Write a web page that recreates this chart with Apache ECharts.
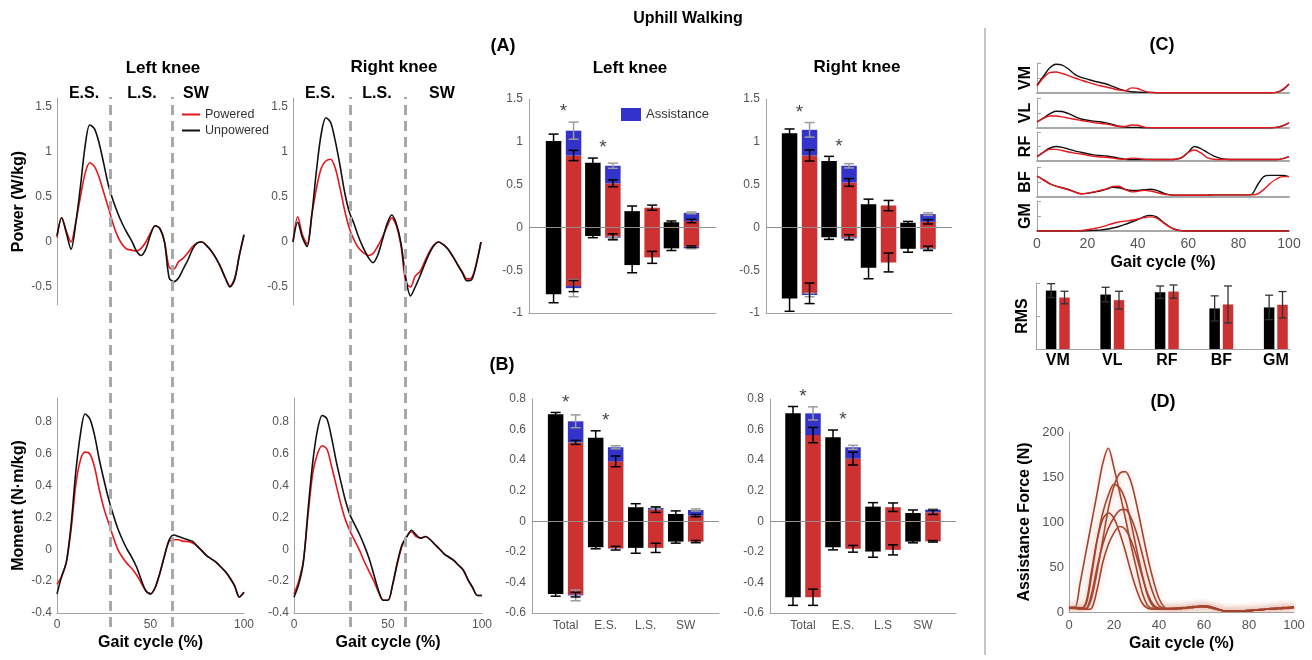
<!DOCTYPE html>
<html>
<head>
<meta charset="utf-8">
<title>Uphill Walking</title>
<script src="https://cdn.jsdelivr.net/npm/echarts@6/dist/echarts.min.js"></script>
<style>
html, body { margin: 0; padding: 0; background: #fff; }
#main { width: 1312px; height: 660px; }
</style>
</head>
<body>
<div id="main"></div>
<script>
// ---- data ----
var gaitPct = [0,2.5,5,7.5,10,12.5,15,17.5,20,22.5,25,27.5,30,32.5,35,37.5,40,42.5,45,47.5,50,
  52.5,55,57.5,60,62.5,65,67.5,70,72.5,75,77.5,80,82.5,85,87.5,90,92.5,95,97.5,100];

// knee power (W/kg)
var pwrL_unp = [0.07,0.27,0.1,-0.08,0.2,0.61,1.06,1.3,1.26,1.1,0.87,0.63,0.46,0.32,0.2,0.1,0.01,-0.1,-0.15,-0.08,
  0.08,0.18,0.15,0.0,-0.4,-0.44,-0.4,-0.3,-0.2,-0.08,-0.01,0.0,-0.04,-0.1,-0.18,-0.28,-0.4,-0.5,-0.42,-0.15,0.08];
var pwrL_pow = [0.05,0.27,0.12,0.0,0.22,0.5,0.76,0.88,0.84,0.72,0.55,0.38,0.2,0.06,-0.03,-0.08,-0.09,-0.1,-0.07,0.0,
  0.1,0.18,0.15,0.0,-0.28,-0.3,-0.22,-0.18,-0.12,-0.05,-0.01,0.0,-0.04,-0.1,-0.18,-0.28,-0.4,-0.49,-0.4,-0.15,0.08];
var pwrR_unp = [0.0,0.22,0.05,-0.05,0.3,0.8,1.2,1.38,1.33,1.12,0.85,0.55,0.33,0.2,0.05,-0.07,-0.17,-0.23,-0.15,0.02,
  0.2,0.3,0.2,-0.02,-0.4,-0.6,-0.5,-0.38,-0.25,-0.13,-0.04,0.0,-0.03,-0.08,-0.16,-0.25,-0.34,-0.43,-0.42,-0.25,0.0];
var pwrR_pow = [0.0,0.28,0.08,-0.02,0.3,0.6,0.82,0.9,0.92,0.82,0.6,0.35,0.15,0.02,-0.07,-0.12,-0.15,-0.13,-0.05,0.05,
  0.17,0.27,0.18,-0.05,-0.45,-0.5,-0.38,-0.33,-0.22,-0.11,-0.03,0.0,-0.03,-0.08,-0.16,-0.25,-0.33,-0.41,-0.4,-0.24,0.0];

// knee moment (N·m/kg)
var momL_unp = [-0.28,-0.17,-0.08,0.15,0.48,0.72,0.85,0.82,0.72,0.57,0.44,0.32,0.22,0.13,0.06,0.0,-0.05,-0.11,-0.19,-0.26,
  -0.28,-0.24,-0.15,-0.04,0.06,0.09,0.08,0.07,0.06,0.05,0.02,-0.01,-0.04,-0.06,-0.08,-0.11,-0.14,-0.18,-0.23,-0.3,-0.27];
var momL_pow = [-0.22,-0.17,-0.08,0.12,0.4,0.56,0.61,0.6,0.52,0.38,0.26,0.17,0.08,0.0,-0.05,-0.09,-0.12,-0.16,-0.21,-0.26,
  -0.28,-0.24,-0.15,-0.04,0.05,0.06,0.06,0.05,0.05,0.04,0.02,-0.01,-0.04,-0.06,-0.08,-0.11,-0.14,-0.18,-0.23,-0.3,-0.27];
var momR_unp = [-0.3,-0.22,-0.08,0.25,0.55,0.75,0.84,0.82,0.7,0.55,0.42,0.3,0.21,0.15,0.09,0.02,-0.06,-0.16,-0.26,-0.32,
  -0.32,-0.22,-0.08,0.03,0.08,0.12,0.09,0.07,0.08,0.06,0.03,0.0,-0.03,-0.05,-0.07,-0.1,-0.13,-0.19,-0.24,-0.29,-0.29];
var momR_pow = [-0.28,-0.2,-0.07,0.22,0.48,0.6,0.65,0.63,0.52,0.4,0.28,0.18,0.11,0.05,-0.01,-0.08,-0.14,-0.2,-0.27,-0.32,
  -0.32,-0.22,-0.09,0.02,0.08,0.11,0.08,0.07,0.08,0.06,0.03,0.0,-0.03,-0.05,-0.07,-0.1,-0.13,-0.19,-0.24,-0.29,-0.29];

// phase boundaries (% gait): early stance | late stance | swing
var phaseL = [28.3, 61.5];
var phaseR = [30.3, 59.6];

// (A) power per phase, (B) moment per phase
var barCatsL = ['Total', 'E.S.', 'L.S.', 'SW'];
var barCatsR = ['Total', 'E.S.', 'L.S', 'SW'];

var aL_unpPos = [1.01, 0.755, 0.19, 0.06],   aL_unpPosSd = [0.08, 0.055, 0.06, 0.015];
var aL_unpNeg = [-0.78, -0.1, -0.44, -0.245], aL_unpNegSd = [0.1, 0.02, 0.09, 0.025];
var aL_powPos = [0.84, 0.515, 0.23, 0.075],  aL_powPosSd = [0.06, 0.04, 0.03, 0.02];
var aL_powNeg = [-0.685, -0.11, -0.35, -0.225], aL_powNegSd = [0.065, 0.035, 0.07, 0.01];
var aL_asPos = [1.13, 0.72, 0.23, 0.17],     aL_asPosSd = [0.1, 0.03, 0, 0.01];
var aL_asNeg = [-0.71, -0.12, -0.35, -0.245], aL_asNegSd = [0.1, 0.01, 0, 0.005];

var aR_unpPos = [1.1, 0.775, 0.27, 0.055],   aR_unpPosSd = [0.05, 0.055, 0.06, 0.015];
var aR_unpNeg = [-0.83, -0.115, -0.47, -0.25], aR_unpNegSd = [0.15, 0.025, 0.13, 0.04];
var aR_powPos = [0.84, 0.525, 0.255, 0.065], aR_powPosSd = [0.065, 0.045, 0.06, 0.025];
var aR_powNeg = [-0.77, -0.115, -0.41, -0.245], aR_powNegSd = [0.12, 0.03, 0.11, 0.025];
var aR_asPos = [1.14, 0.72, 0.255, 0.155],   aR_asPosSd = [0.085, 0.025, 0, 0.015];
var aR_asNeg = [-0.79, -0.13, -0.41, -0.255], aR_asNegSd = [0.02, 0.005, 0, 0.005];

var bL_unpPos = [0.7, 0.547, 0.092, 0.048],  bL_unpPosSd = [0.012, 0.045, 0.023, 0.02];
var bL_unpNeg = [-0.475, -0.17, -0.174, -0.133], bL_unpNegSd = [0.015, 0.01, 0.035, 0.01];
var bL_powPos = [0.516, 0.392, 0.076, 0.037], bL_powPosSd = [0.013, 0.035, 0.018, 0.007];
var bL_powNeg = [-0.48, -0.176, -0.174, -0.133], bL_powNegSd = [0.015, 0.012, 0.03, 0.007];
var bL_asPos = [0.654, 0.484, 0.087, 0.074], bL_asPosSd = [0.042, 0.01, 0.005, 0.007];
var bL_asNeg = [-0.485, -0.178, -0.174, -0.133], bL_asNegSd = [0.035, 0, 0, 0];

var bR_unpPos = [0.706, 0.549, 0.096, 0.054], bR_unpPosSd = [0.045, 0.048, 0.026, 0.02];
var bR_unpNeg = [-0.497, -0.17, -0.198, -0.133], bR_unpNegSd = [0.053, 0.017, 0.037, 0.008];
var bR_powPos = [0.564, 0.41, 0.092, 0.059], bR_powPosSd = [0.05, 0.042, 0.028, 0.014];
var bR_powNeg = [-0.497, -0.18, -0.187, -0.131], bR_powNegSd = [0.053, 0.022, 0.033, 0.005];
var bR_asPos = [0.706, 0.484, 0.092, 0.076], bR_asPosSd = [0.043, 0.013, 0, 0.005];
var bR_asNeg = [-0.497, -0.18, -0.187, -0.131], bR_asNegSd = [0, 0, 0, 0];

// significant differences (*)
var sigAL = [1, 1, 0, 0], sigAR = [1, 1, 0, 0], sigBL = [1, 1, 0, 0], sigBR = [1, 1, 0, 0];

// (C) EMG envelopes, normalised
var vm_unp = [0.26,0.55,0.83,0.96,0.93,0.8,0.62,0.52,0.46,0.4,0.35,0.3,0.22,0.14,0.08,0.04,0.03,0.02,0.02,0.01,
  0.01,0.01,0.01,0.01,0.01,0.01,0.01,0.01,0.01,0.01,0.01,0.01,0.01,0.01,0.01,0.01,0.01,0.01,0.02,0.1,0.3];
var vm_pow = [0.23,0.5,0.68,0.7,0.65,0.58,0.5,0.43,0.36,0.3,0.24,0.2,0.15,0.1,0.07,0.17,0.15,0.06,0.02,0.01,
  0.01,0.01,0.01,0.01,0.01,0.01,0.01,0.01,0.01,0.01,0.01,0.01,0.01,0.01,0.01,0.01,0.01,0.01,0.02,0.12,0.3];
var vl_unp = [0.2,0.33,0.47,0.56,0.55,0.48,0.38,0.3,0.26,0.23,0.21,0.17,0.12,0.06,0.03,0.02,0.02,0.01,0.01,0.01,
  0.01,0.01,0.01,0.01,0.01,0.01,0.01,0.01,0.01,0.01,0.01,0.01,0.01,0.01,0.01,0.01,0.01,0.01,0.02,0.07,0.17];
var vl_pow = [0.2,0.32,0.4,0.4,0.37,0.33,0.29,0.25,0.22,0.18,0.16,0.13,0.09,0.05,0.05,0.1,0.09,0.03,0.01,0.01,
  0.01,0.01,0.01,0.01,0.01,0.01,0.01,0.01,0.01,0.01,0.01,0.01,0.01,0.01,0.01,0.01,0.01,0.01,0.02,0.08,0.17];
var rf_unp = [0.15,0.3,0.44,0.5,0.47,0.41,0.35,0.3,0.25,0.21,0.19,0.17,0.14,0.1,0.06,0.05,0.05,0.05,0.05,0.05,
  0.05,0.05,0.06,0.12,0.3,0.5,0.43,0.3,0.18,0.1,0.06,0.05,0.05,0.05,0.05,0.05,0.05,0.05,0.05,0.08,0.15];
var rf_pow = [0.15,0.3,0.4,0.4,0.36,0.31,0.27,0.24,0.2,0.16,0.14,0.13,0.1,0.07,0.06,0.1,0.09,0.06,0.05,0.05,
  0.05,0.05,0.06,0.13,0.3,0.38,0.28,0.12,0.06,0.05,0.05,0.05,0.05,0.05,0.05,0.05,0.05,0.05,0.05,0.08,0.15];
var bf_unp = [0.7,0.58,0.45,0.36,0.31,0.25,0.17,0.11,0.12,0.16,0.2,0.26,0.32,0.31,0.25,0.22,0.22,0.24,0.26,0.22,
  0.14,0.08,0.06,0.06,0.06,0.06,0.06,0.06,0.07,0.07,0.07,0.07,0.07,0.07,0.08,0.4,0.68,0.72,0.72,0.72,0.68];
var bf_pow = [0.7,0.57,0.44,0.36,0.3,0.24,0.16,0.11,0.13,0.17,0.22,0.27,0.35,0.36,0.25,0.17,0.19,0.22,0.2,0.15,
  0.1,0.07,0.06,0.06,0.06,0.06,0.06,0.06,0.07,0.07,0.07,0.07,0.07,0.07,0.07,0.1,0.25,0.45,0.6,0.68,0.68];
var gm_unp = [0,0,0,0,0,0,0,0,0.01,0.02,0.03,0.06,0.1,0.15,0.22,0.3,0.38,0.48,0.52,0.47,
  0.3,0.15,0.05,0.01,0,0,0,0,0,0,0,0,0,0,0,0,0,0,0,0,0];
var gm_pow = [0,0,0,0,0,0,0,0.01,0.04,0.08,0.12,0.18,0.25,0.3,0.33,0.36,0.4,0.45,0.47,0.43,
  0.28,0.14,0.04,0.01,0,0,0,0,0,0,0,0,0,0,0,0,0,0,0,0,0];

// EMG RMS
var rmsCats = ['VM', 'VL', 'RF', 'BF', 'GM'];
var rms_unp = [1.77, 1.65, 1.72, 1.23, 1.26], rms_unpSd = [0.21, 0.22, 0.19, 0.38, 0.37];
var rms_pow = [1.56, 1.48, 1.74, 1.35, 1.34], rms_powSd = [0.19, 0.27, 0.2, 0.56, 0.4];

// (D) assistance force per subject (N)
var force1 = [5,4,33,66,99,132,165,182,160,133,105,75,48,22,7,4,4,4,4,4,5,5,6,6,7,6,4,2,1,1,1,1,2,2,3,3,4,4,5,5,5];
var force2 = [5,5,4,3,15,45,80,115,140,154,156,145,120,90,60,35,15,5,3,3,4,4,5,6,6,5,4,2,1,1,1,1,1,2,2,3,3,4,4,5,5];
var force3 = [5,5,4,8,40,80,110,130,142,138,125,100,70,42,18,6,4,4,3,4,4,5,6,6,7,6,4,2,1,1,1,1,2,2,3,3,4,4,5,5,6];
var force4 = [5,5,5,4,20,50,75,93,105,113,114,105,88,65,40,20,7,4,3,4,4,5,5,6,6,5,3,2,1,1,1,1,2,2,2,3,3,4,4,5,5];
var force5 = [4,4,3,10,45,80,103,110,104,88,68,45,25,10,4,3,3,3,4,4,4,5,5,6,7,6,4,2,1,1,1,1,1,2,2,3,3,4,4,4,5];
var force6 = [5,5,4,3,4,25,55,75,88,95,92,80,62,40,20,8,4,3,3,4,4,5,5,6,6,5,4,2,1,1,1,1,1,2,2,3,3,4,4,5,5];

// ---- styling ----
var FONT = '"Liberation Sans", Arial, Helvetica, sans-serif';
var AX = '#a3a3a3', TXT = '#555';
var C_UNP = '#111111', C_POW = '#e8161b', C_BAR_RED = '#cd3131', C_BLUE = '#3333cc', C_FORCE = '#a3432c';

function merge(a, b) {
  var out = {};
  [a, b].forEach(function (src) {
    if (!src) return;
    Object.keys(src).forEach(function (k) {
      var v = src[k];
      if (v && typeof v === 'object' && !Array.isArray(v) && typeof v !== 'function' &&
          out[k] && typeof out[k] === 'object' && !Array.isArray(out[k])) {
        out[k] = merge(out[k], v);
      } else {
        out[k] = v;
      }
    });
  });
  return out;
}

function axisBase() {
  return {
    type: 'value', splitLine: { show: false }, axisTick: { show: false },
    axisLine: { show: true, onZero: false, lineStyle: { color: AX, width: 1 } },
    axisLabel: { color: TXT, fontSize: 12, fontFamily: FONT, margin: 5 },
    nameLocation: 'middle',
    nameTextStyle: { color: '#000', fontSize: 16, fontWeight: 'bold', fontFamily: FONT }
  };
}

var grids = [], xAxes = [], yAxes = [], series = [];

function addGrid(rect, xo, yo) {
  var gi = grids.length;
  grids.push(merge({ outerBoundsMode: 'none', containLabel: false }, rect));
  xAxes.push(merge(merge(axisBase(), { gridIndex: gi }), xo));
  yAxes.push(merge(merge(axisBase(), { gridIndex: gi, nameRotate: 90 }), yo));
  return gi;
}

function zip(xs, ys) {
  return xs.map(function (x, i) { return [x, ys[i]]; });
}

function lineSeries(gi, name, color, vals, width, extra) {
  return merge({
    type: 'line', name: name, xAxisIndex: gi, yAxisIndex: gi, data: zip(gaitPct, vals),
    showSymbol: false, symbol: 'none', smooth: 0.3, silent: true, z: 3,
    lineStyle: { color: color, width: width }, itemStyle: { color: color }
  }, extra);
}

// floating bar from value(1) to value(2), shifted by offset px
function barSeries(gi, name, pts, offset, width, color) {
  return {
    type: 'custom', name: name, coordinateSystem: 'cartesian2d', xAxisIndex: gi, yAxisIndex: gi,
    data: pts, silent: true, z: 2, encode: { x: 0, y: [1, 2] }, itemStyle: { color: color },
    renderItem: function (params, api) {
      var a = api.coord([api.value(0), api.value(1)]);
      var b = api.coord([api.value(0), api.value(2)]);
      return {
        type: 'rect',
        shape: { x: a[0] + offset - width / 2, y: Math.min(a[1], b[1]), width: width, height: Math.abs(a[1] - b[1]) },
        style: { fill: color }
      };
    }
  };
}

// error bar at value(1) +- value(2)
function errSeries(gi, pts, offset, color, cap, lw) {
  return {
    type: 'custom', coordinateSystem: 'cartesian2d', xAxisIndex: gi, yAxisIndex: gi,
    data: pts, silent: true, z: 4, encode: { x: 0, y: 1 },
    renderItem: function (params, api) {
      var sd = api.value(2);
      if (!sd) return null;
      var hi = api.coord([api.value(0), api.value(1) + sd]);
      var lo = api.coord([api.value(0), api.value(1) - sd]);
      var cx = hi[0] + offset;
      function st() { return { stroke: color, lineWidth: lw, fill: null }; }
      return {
        type: 'group', children: [
          { type: 'line', shape: { x1: cx, y1: hi[1], x2: cx, y2: lo[1] }, style: st() },
          { type: 'line', shape: { x1: cx - cap, y1: hi[1], x2: cx + cap, y2: hi[1] }, style: st() },
          { type: 'line', shape: { x1: cx - cap, y1: lo[1], x2: cx + cap, y2: lo[1] }, style: st() }
        ]
      };
    }
  };
}

function phaseBarPanel(gi, d) {
  var BW = 15.5, OFF = 10;
  var unp = [], pow = [], as = [], eU = [], eP = [], eA = [], stars = [];
  for (var i = 0; i < d.unpPos.length; i++) {
    var x = i + 1;
    unp.push([x, d.unpNeg[i], d.unpPos[i]]);
    pow.push([x, d.powNeg[i], d.powPos[i]]);
    as.push([x, d.powPos[i], d.asPos[i]]);
    as.push([x, d.asNeg[i], d.powNeg[i]]);
    eU.push([x, d.unpPos[i], d.unpPosSd[i]], [x, d.unpNeg[i], d.unpNegSd[i]]);
    eP.push([x, d.powPos[i], d.powPosSd[i]], [x, d.powNeg[i], d.powNegSd[i]]);
    eA.push([x, d.asPos[i], d.asPosSd[i]], [x, d.asNeg[i], d.asNegSd[i]]);
    if (d.sig[i]) stars.push([x, Math.max(d.unpPos[i] + d.unpPosSd[i], d.asPos[i] + d.asPosSd[i])]);
  }
  series.push(
    {
      type: 'scatter', xAxisIndex: gi, yAxisIndex: gi, data: stars, symbolSize: 1, silent: true, z: 1,
      itemStyle: { color: 'rgba(0,0,0,0)' },
      label: { show: true, position: 'inside', offset: [0, -10], formatter: '*', fontSize: 19, color: '#111', fontFamily: FONT },
      markLine: {
        silent: true, symbol: ['none', 'none'], label: { show: false }, animation: false,
        lineStyle: { color: '#8f8f8f', width: 1, type: 'solid' }, data: [{ yAxis: 0 }]
      }
    },
    barSeries(gi, 'Unpowered bar', unp, -OFF, BW, '#000'),
    barSeries(gi, 'Powered bar', pow, OFF, BW, C_BAR_RED),
    barSeries(gi, 'Assistance', as, OFF, BW, C_BLUE),
    errSeries(gi, eU, -OFF, '#000', 5, 1.5),
    errSeries(gi, eA, OFF, '#9c9c9c', 5, 1.5),
    errSeries(gi, eP, OFF, '#000', 5, 1.5)
  );
}

// ---- knee power / moment curves ----
var gPL = addGrid({ left: 57, top: 98, width: 187, height: 207 },
  { min: 0, max: 100, show: false },
  { min: -0.7, max: 1.6, axisLabel: { customValues: [-0.5, 0, 0.5, 1, 1.5] }, name: 'Power (W/kg)', nameGap: 30 });
var gPR = addGrid({ left: 293, top: 98, width: 188, height: 207 },
  { min: 0, max: 100, show: false },
  { min: -0.7, max: 1.6, axisLabel: { customValues: [-0.5, 0, 0.5, 1, 1.5] } });
var momY = [-0.4, -0.2, 0, 0.2, 0.4, 0.6, 0.8];
var gML = addGrid({ left: 57, top: 398, width: 187, height: 215 },
  { min: 0, max: 100, interval: 50, name: 'Gait cycle (%)', nameGap: 22, axisLabel: { margin: 6 } },
  { min: -0.4, max: 0.95, axisLabel: { customValues: momY }, name: 'Moment (N·m/kg)', nameGap: 30 });
var gMR = addGrid({ left: 294, top: 398, width: 188, height: 215 },
  { min: 0, max: 100, interval: 50, name: 'Gait cycle (%)', nameGap: 22, axisLabel: { margin: 6 } },
  { min: -0.4, max: 0.95, axisLabel: { customValues: momY } });
var gDL = addGrid({ left: 57, top: 97, width: 187, height: 530 }, { min: 0, max: 100, show: false }, { min: 0, max: 1, show: false });
var gDR = addGrid({ left: 293, top: 97, width: 188, height: 530 }, { min: 0, max: 100, show: false }, { min: 0, max: 1, show: false });

series.push(
  lineSeries(gPL, 'Powered', C_POW, pwrL_pow, 1.6), lineSeries(gPL, 'Unpowered', C_UNP, pwrL_unp, 1.6),
  lineSeries(gPR, 'Powered', C_POW, pwrR_pow, 1.6), lineSeries(gPR, 'Unpowered', C_UNP, pwrR_unp, 1.6),
  lineSeries(gML, 'Powered', C_POW, momL_pow, 1.6), lineSeries(gML, 'Unpowered', C_UNP, momL_unp, 1.6),
  lineSeries(gMR, 'Powered', C_POW, momR_pow, 1.6), lineSeries(gMR, 'Unpowered', C_UNP, momR_unp, 1.6)
);

[[gDL, phaseL], [gDR, phaseR]].forEach(function (p) {
  series.push({
    type: 'line', xAxisIndex: p[0], yAxisIndex: p[0], data: [[0, 0]], showSymbol: false, symbol: 'none',
    silent: true, z: 1, lineStyle: { opacity: 0 },
    markLine: {
      silent: true, symbol: ['none', 'none'], label: { show: false }, animation: false,
      lineStyle: { color: '#a9a9a9', width: 3, type: [10, 6] },
      data: p[1].map(function (v) { return { xAxis: v }; })
    }
  });
});

// ---- (A) / (B) phase bars ----
var gAL = addGrid({ left: 529, top: 99, width: 187, height: 214 },
  { min: 0.12, max: 4.88, axisLabel: { show: false } },
  { min: -1, max: 1.5, axisLabel: { customValues: [-1, -0.5, 0, 0.5, 1, 1.5], margin: 6 } });
var gAR = addGrid({ left: 766, top: 99, width: 186, height: 214 },
  { min: 0.15, max: 4.86, axisLabel: { show: false } },
  { min: -1, max: 1.5, axisLabel: { customValues: [-1, -0.5, 0, 0.5, 1, 1.5], margin: 6 } });
var momBarY = [-0.6, -0.4, -0.2, 0, 0.2, 0.4, 0.6, 0.8];
var gBL = addGrid({ left: 532, top: 399, width: 187, height: 214 },
  { min: 0.16, max: 4.83, axisLabel: { customValues: [1, 2, 3, 4], margin: 7, formatter: function (v) { return barCatsL[Math.round(v) - 1]; } } },
  { min: -0.6, max: 0.8, axisLabel: { customValues: momBarY, margin: 6 } });
var gBR = addGrid({ left: 770, top: 399, width: 186, height: 214 },
  { min: 0.175, max: 4.825, axisLabel: { customValues: [1, 2, 3, 4], margin: 7, formatter: function (v) { return barCatsR[Math.round(v) - 1]; } } },
  { min: -0.6, max: 0.8, axisLabel: { customValues: momBarY, margin: 6 } });

phaseBarPanel(gAL, { unpPos: aL_unpPos, unpPosSd: aL_unpPosSd, unpNeg: aL_unpNeg, unpNegSd: aL_unpNegSd,
  powPos: aL_powPos, powPosSd: aL_powPosSd, powNeg: aL_powNeg, powNegSd: aL_powNegSd,
  asPos: aL_asPos, asPosSd: aL_asPosSd, asNeg: aL_asNeg, asNegSd: aL_asNegSd, sig: sigAL });
phaseBarPanel(gAR, { unpPos: aR_unpPos, unpPosSd: aR_unpPosSd, unpNeg: aR_unpNeg, unpNegSd: aR_unpNegSd,
  powPos: aR_powPos, powPosSd: aR_powPosSd, powNeg: aR_powNeg, powNegSd: aR_powNegSd,
  asPos: aR_asPos, asPosSd: aR_asPosSd, asNeg: aR_asNeg, asNegSd: aR_asNegSd, sig: sigAR });
phaseBarPanel(gBL, { unpPos: bL_unpPos, unpPosSd: bL_unpPosSd, unpNeg: bL_unpNeg, unpNegSd: bL_unpNegSd,
  powPos: bL_powPos, powPosSd: bL_powPosSd, powNeg: bL_powNeg, powNegSd: bL_powNegSd,
  asPos: bL_asPos, asPosSd: bL_asPosSd, asNeg: bL_asNeg, asNegSd: bL_asNegSd, sig: sigBL });
phaseBarPanel(gBR, { unpPos: bR_unpPos, unpPosSd: bR_unpPosSd, unpNeg: bR_unpNeg, unpNegSd: bR_unpNegSd,
  powPos: bR_powPos, powPosSd: bR_powPosSd, powNeg: bR_powNeg, powNegSd: bR_powNegSd,
  asPos: bR_asPos, asPosSd: bR_asPosSd, asNeg: bR_asNeg, asNegSd: bR_asNegSd, sig: sigBR });

// ---- (C) EMG ----
var emgRows = [
  ['VM', 63, 30, vm_unp, vm_pow], ['VL', 98, 30, vl_unp, vl_pow], ['RF', 132, 29, rf_unp, rf_pow],
  ['BF', 167, 30, bf_unp, bf_pow], ['GM', 201, 30, gm_unp, gm_pow]
];
emgRows.forEach(function (r, k) {
  var last = k === emgRows.length - 1;
  var gi = addGrid({ left: 1037, top: r[1], width: 252, height: r[2] },
    { min: 0, max: 100, interval: 20, axisLine: { lineStyle: { width: 2, color: '#a8a8a8' } },
      axisLabel: { show: last, fontSize: 14, margin: 6 }, name: last ? 'Gait cycle (%)' : '', nameGap: 24 },
    { min: 0, max: 1, interval: 0.5, axisLabel: { show: false },
      axisTick: { show: true, inside: true, length: 4, lineStyle: { color: AX } }, name: r[0], nameGap: 3 });
  series.push(lineSeries(gi, 'Unpowered', C_UNP, r[3], 1.4), lineSeries(gi, 'Powered', C_POW, r[4], 1.4));
});

// EMG RMS bars
var gRMS = addGrid({ left: 1036, top: 283, width: 254, height: 66 },
  { min: 0.6, max: 5.26, axisLabel: { customValues: [1, 2, 3, 4, 5], margin: 4, fontSize: 16, fontWeight: 'bold', color: '#000',
    formatter: function (v) { return rmsCats[Math.round(v) - 1]; } } },
  { min: 0, max: 2, interval: 1, axisLabel: { show: false },
    axisTick: { show: true, inside: true, length: 4, lineStyle: { color: AX } }, name: 'RMS', nameGap: 5 });
series.push(
  barSeries(gRMS, 'RMS unpowered', rms_unp.map(function (v, i) { return [i + 1, 0, v]; }), -6.7, 10.5, '#000'),
  barSeries(gRMS, 'RMS powered', rms_pow.map(function (v, i) { return [i + 1, 0, v]; }), 6.7, 10.5, C_BAR_RED),
  errSeries(gRMS, rms_unp.map(function (v, i) { return [i + 1, v, rms_unpSd[i]]; }), -6.7, '#333', 4, 1.3),
  errSeries(gRMS, rms_pow.map(function (v, i) { return [i + 1, v, rms_powSd[i]]; }), 6.7, '#333', 4, 1.3)
);

// ---- (D) assistance force ----
var gF = addGrid({ left: 1069, top: 432, width: 225, height: 180 },
  { min: 0, max: 100, interval: 20, axisLabel: { fontSize: 13, margin: 7 }, name: 'Gait cycle (%)', nameGap: 24 },
  { min: 0, max: 200, interval: 50, axisLabel: { fontSize: 13, margin: 5 }, name: 'Assistance Force (N)', nameGap: 36 });
[force1, force2, force3, force4, force5, force6].forEach(function (f) {
  series.push(lineSeries(gF, 'force', C_FORCE, f, 1.6, {
    lineStyle: { shadowColor: 'rgba(214,140,120,0.45)', shadowBlur: 6 }
  }));
});

// ---- text ----
function txt(s, x, y, size, bold) {
  var font = (bold ? 'bold ' : '') + size + 'px ' + FONT;
  return { type: 'text', x: x, y: y, silent: true,
    style: { text: s, fill: '#000', font: font, textAlign: 'center', textVerticalAlign: 'middle', align: 'center', verticalAlign: 'middle' } };
}
var texts = [
  txt('Uphill Walking', 688, 19, 16, true),
  txt('Left knee', 163, 68, 17, true), txt('Right knee', 394, 67, 17, true),
  txt('E.S.', 84, 94, 16, true), txt('L.S.', 142, 94, 16, true), txt('SW', 196, 94, 16, true),
  txt('E.S.', 320, 94, 16, true), txt('L.S.', 377, 94, 16, true), txt('SW', 442, 94, 16, true),
  txt('(A)', 503, 46, 18, true), txt('(B)', 502, 365, 18, true),
  txt('Left knee', 630, 68, 17, true), txt('Right knee', 857, 67, 17, true),
  txt('(C)', 1162, 45, 18, true), txt('(D)', 1163, 402, 18, true),
  { type: 'line', silent: true, shape: { x1: 985, y1: 28, x2: 985, y2: 655 }, style: { stroke: '#8c8c8c', lineWidth: 1 } }
];

var option = {
  animation: false,
  backgroundColor: '#fff',
  textStyle: { fontFamily: FONT },
  legend: [
    { data: ['Powered', 'Unpowered'], orient: 'vertical', left: 182, top: 108, padding: 0, itemGap: 3,
      itemWidth: 18, itemHeight: 2, icon: 'rect', selectedMode: false,
      textStyle: { fontSize: 12.5, color: '#333', fontFamily: FONT } },
    { data: ['Assistance'], left: 621, top: 108, padding: 0, itemWidth: 20, itemHeight: 13, icon: 'rect',
      selectedMode: false, textStyle: { fontSize: 13, color: '#333', fontFamily: FONT } }
  ],
  graphic: { elements: texts },
  grid: grids,
  xAxis: xAxes,
  yAxis: yAxes,
  series: series
};

var myChart = echarts.init(document.getElementById('main'));
myChart.setOption(option, true);
</script>
</body>
</html>
